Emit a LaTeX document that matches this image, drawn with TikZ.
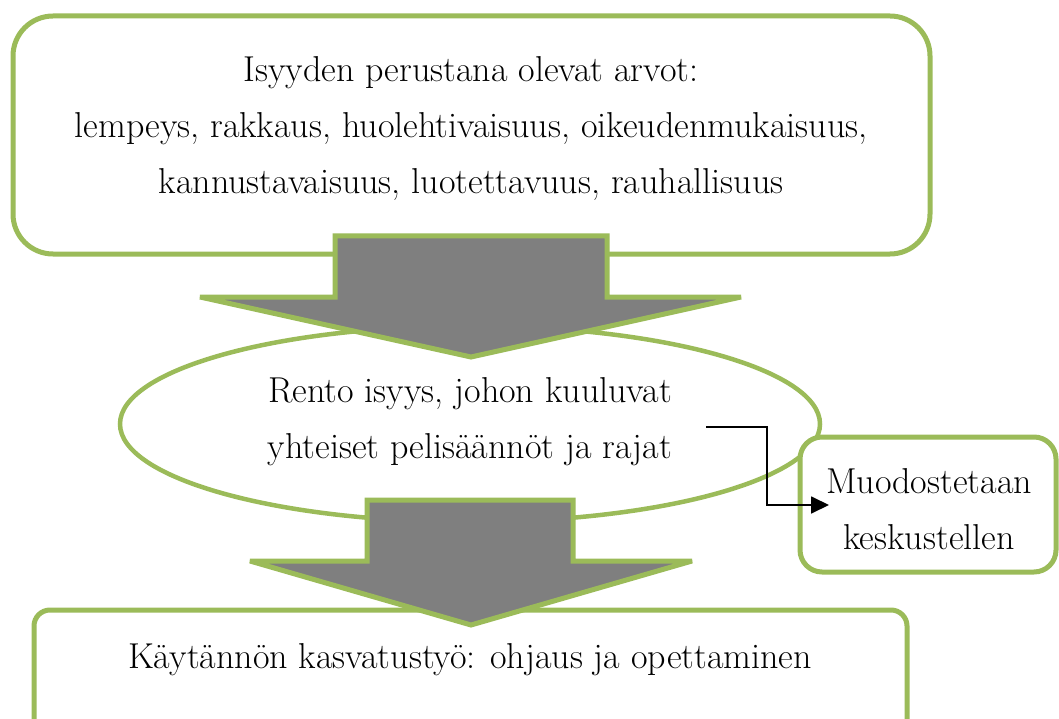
\documentclass[tikz,border=0pt]{standalone}
\usetikzlibrary{arrows.meta}
\definecolor{grn}{HTML}{9BBB59}
\definecolor{arrgray}{HTML}{7F7F7F}
\tikzset{
  box/.style={draw=grn, line width=5pt, fill=white},
  bigarrow/.style={draw=grn, line width=5pt, fill=arrgray, line join=miter, miter limit=1.5},
  txt/.style={align=center, font=\fontsize{36}{56}\selectfont, inner sep=0pt},
  conn/.style={draw=black, line width=1.8pt, -{Triangle[length=18pt,width=17pt]}}
}
\begin{document}
\begin{tikzpicture}[x=1pt,y=-1pt]
\useasboundingbox (0,0) rectangle (1059,719);
\clip (0,0) rectangle (1059,719);
% top box
\draw[box, rounded corners=40pt] (13,16) rectangle (930,254);
\node[txt] (top) at (471,129) {Isyyden perustana olevat arvot:\\lempeys, rakkaus, huolehtivaisuus, oikeudenmukaisuus,\\kannustavaisuus, luotettavuus, rauhallisuus};
% bottom box
\draw[box, rounded corners=16pt] (34,610) rectangle (907,740);
\node[txt] (bottom) at (470,660) {Käytännön kasvatustyö: ohjaus ja opettaminen};
% ellipse
\draw[draw=grn, line width=4.5pt, fill=white] (470,424) ellipse [x radius=350, y radius=98];
\node[txt] (mid) at (470,422) {Rento isyys, johon kuuluvat\\yhteiset pelisäännöt ja rajat};
% side box
\draw[box, rounded corners=22pt] (800,437) rectangle (1056,572);
\node[txt] (side) at (929,509) {Muodostetaan\\keskustellen};
% arrows
\draw[bigarrow] (335,236) -- (607,236) -- (607,297) -- (741,297) -- (471,357) -- (200,297) -- (335,297) -- cycle;
\draw[bigarrow] (367,500) -- (573,500) -- (573,561) -- (692,561) -- (471,625) -- (250,561) -- (367,561) -- cycle;
% connector
\coordinate (cstart) at (706,427);
\coordinate (cend) at (829,505);
\draw[conn] (cstart) -| (767,505) -- (cend);
\end{tikzpicture}
\end{document}
